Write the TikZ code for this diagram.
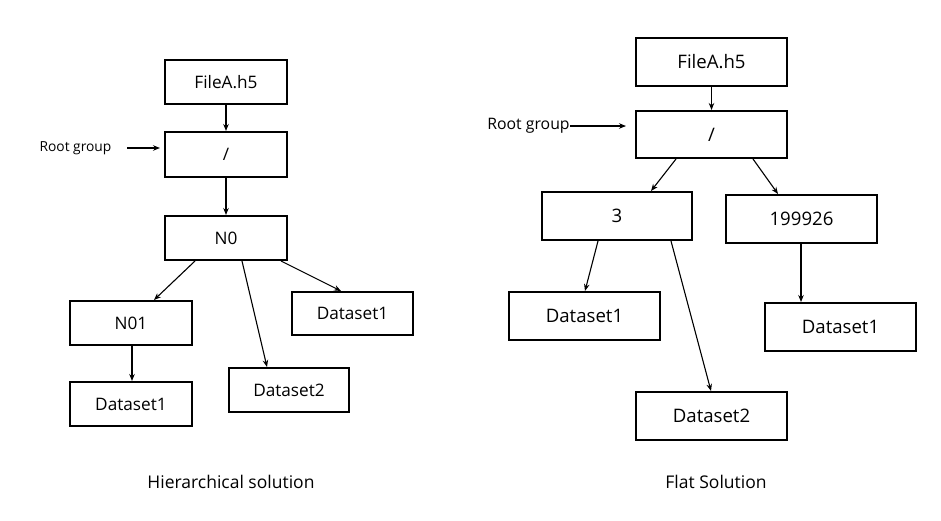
\documentclass[tikz,border=0pt]{standalone}
\usepackage{fontspec}
\setmainfont{Open Sans}
\usetikzlibrary{arrows.meta}
\tikzset{
  box/.style={draw=black, line width=2pt, inner sep=0pt, minimum width=#1},
  lbox/.style={box=122pt, minimum height=44pt, font=\fontsize{17.2}{20}\selectfont},
  rbox/.style={box=151pt, minimum height=48pt, font=\fontsize{18.6}{22}\selectfont},
  conn/.style={-{Stealth[length=7pt,width=5.5pt]}, line width=1.1pt},
  lbl/.style={inner sep=0pt},
}
\begin{document}
\begin{tikzpicture}[x=1pt,y=-1pt]
\useasboundingbox (0,0) rectangle (941,520);
% Left: hierarchical
\node[lbox] (lfile) at (226,82) {FileA.h5};
\node[lbox, minimum height=45pt] (lroot) at (226,154.5) {/};
\node[lbox] (ln0) at (226,238) {N0};
\node[lbox] (ln01) at (131,323) {N01};
\node[lbox] (lds1a) at (131,404) {Dataset1};
\node[lbox, minimum width=120pt] (lds2) at (289,390) {Dataset2};
\node[lbox, minimum width=121pt, minimum height=43pt] (lds1b) at (352.5,313.5) {Dataset1};
\node[lbl, font=\fontsize{13.8}{16}\selectfont] (lrg) at (75.5,148) {Root group};
\coordinate (lrgs) at (127,148);
\coordinate (lrge) at (160,148);
\draw[conn] (lrgs) -- (lrge);
\draw[conn] (lfile) -- (lroot);
\draw[conn] (lroot) -- (ln0);
\draw[conn] ([xshift=-31pt]ln0.south) -- ([xshift=23pt]ln01.north);
\draw[conn] ([xshift=16pt]ln0.south) -- ([xshift=-22pt]lds2.north);
\draw[conn] ([xshift=55pt]ln0.south) -- ([xshift=-11.5pt]lds1b.north);
\draw[conn] ([xshift=1pt]ln01.south) -- ([xshift=1pt]lds1a.north);
% Right: flat
\node[rbox] (rfile) at (711.5,62) {FileA.h5};
\node[rbox, minimum height=47pt] (rroot) at (711.5,134.5) {/};
\node[rbox, minimum width=150pt] (r3) at (617,216) {3};
\node[rbox] (r199) at (801.5,219) {199926};
\node[rbox] (rds1a) at (584.5,316) {Dataset1};
\node[rbox] (rds2) at (711.5,416) {Dataset2};
\node[rbox] (rds1b) at (840.5,327) {Dataset1};
\node[lbl, font=\fontsize{15.8}{18}\selectfont] (rrg) at (528.5,126) {Root group};
\coordinate (rrge) at (626,126);
\draw[conn] (rrg.east |- rrge) -- (rrge);
\draw[conn] (rfile) -- (rroot);
\draw[conn] ([xshift=-35.5pt]rroot.south) -- ([xshift=34pt]r3.north);
\draw[conn] ([xshift=41.5pt]rroot.south) -- ([xshift=-23.5pt]r199.north);
\draw[conn] ([xshift=-19pt]r3.south) -- ([xshift=0.5pt]rds1a.north);
\draw[conn] ([xshift=54pt]r3.south) -- ([xshift=-0.5pt]rds2.north);
\draw[conn] ([xshift=-0.5pt]r199.south) -- ([xshift=-39.5pt]rds1b.north);
% Captions
\node[lbl, font=\fontsize{17.5}{20}\selectfont] (capl) at (231,482) {Hierarchical solution};
\node[lbl, font=\fontsize{17.5}{20}\selectfont] (capr) at (716,482) {Flat Solution};
\end{tikzpicture}
\end{document}
